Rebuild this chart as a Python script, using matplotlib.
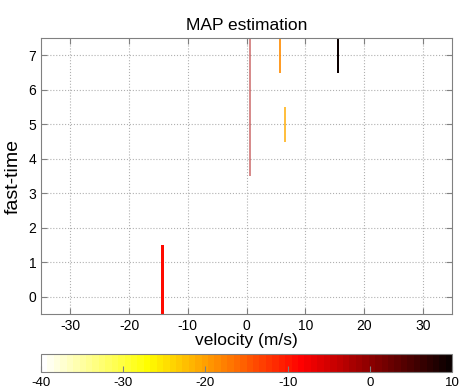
import numpy as np
import matplotlib
matplotlib.use("Agg")
import matplotlib.pyplot as plt
from matplotlib.colors import ListedColormap, Normalize

plt.rcParams['font.family'] = ['Liberation Sans', 'DejaVu Sans']
plt.rcParams['axes.unicode_minus'] = False

# detections: velocity (m/s), first and last fast-time bin, estimated value
velocity = [-14.3, 0.6, 5.7, 6.55, 15.5]
t_start = [0, 4, 7, 5, 7]
t_end = [1, 7, 7, 5, 7]
value = [-8.8, -2.0, -18.5, -20.5, 9.5]
alpha = [1.0, 0.45, 0.85, 0.75, 1.0]

cbar_ticks = [-40, -30, -20, -10, 0, 10]
x_ticks = [-30, -20, -10, 0, 10, 20, 30]
y_ticks = [0, 1, 2, 3, 4, 5, 6, 7]

cmap = ListedColormap(plt.get_cmap('hot_r')(np.linspace(0, 1, 64)))
norm = Normalize(vmin=-40, vmax=10)

fig = plt.figure(figsize=(4.59, 3.92), dpi=100)
ax = fig.add_axes([0.0893, 0.199, 0.896, 0.704])

for v, a, b, c, al in zip(velocity, t_start, t_end, value, alpha):
    ax.bar(v, b - a + 1, bottom=a - 0.5, width=0.38, color=cmap(norm(c)),
           alpha=al, linewidth=0)

ax.set_xlim(-35, 35)
ax.set_ylim(-0.5, 7.5)
ax.set_xticks(x_ticks)
ax.set_yticks(y_ticks)
ax.grid(True, linestyle=':', color='#b0b0b0', linewidth=0.8)
ax.set_axisbelow(True)
ax.tick_params(direction='in', top=True, right=True, labelsize=10,
               color='#808080', length=4)
for s in ax.spines.values():
    s.set_color('#808080')
ax.set_title('MAP estimation', fontsize=12.5)
ax.set_xlabel('velocity (m/s)', fontsize=12.5, labelpad=0)
ax.set_ylabel('fast-time', fontsize=14, labelpad=5)

cax = fig.add_axes([0.0893, 0.051, 0.896, 0.046])
sm = plt.cm.ScalarMappable(cmap=cmap, norm=norm)
cb = fig.colorbar(sm, cax=cax, orientation='horizontal', ticks=cbar_ticks)
cb.outline.set_edgecolor('#808080')
cax.tick_params(direction='in', labelsize=9.5, color='#808080', length=4)

fig.savefig('out.png', dpi=100)
